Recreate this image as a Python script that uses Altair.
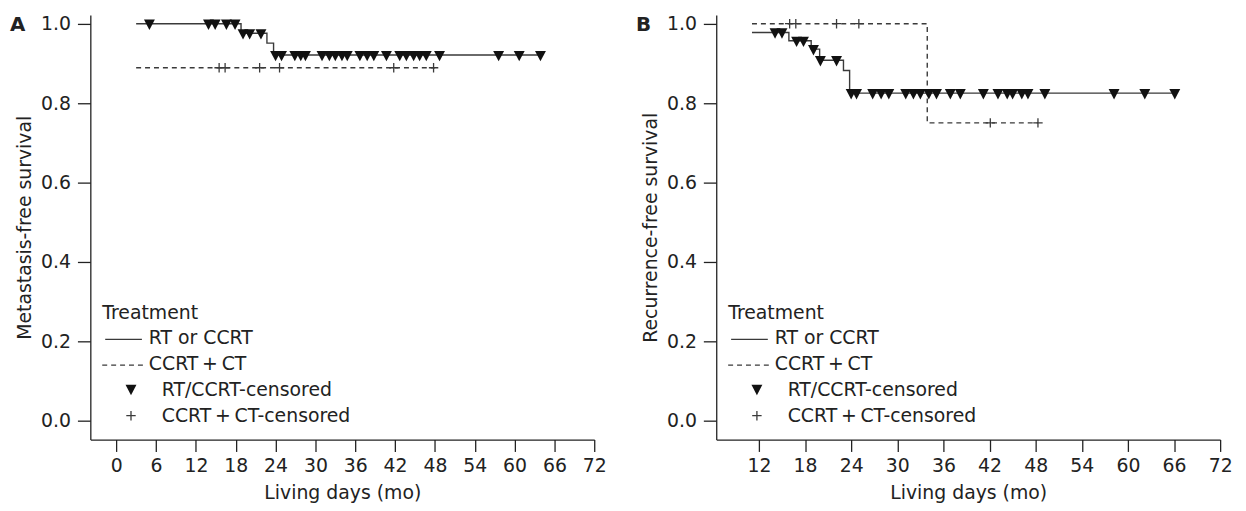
import altair as alt
import pandas as pd
import numpy as np

# ---------------- data ----------------
# Panel A: metastasis-free survival
a_rt_time = [3.0, 18.8, 22.7, 23.7, 63.9]
a_rt_surv = [1.0, 0.976, 0.951, 0.921, 0.921]
a_rt_cens = [5.0, 13.9, 14.9, 16.6, 17.9, 19.1, 20.1, 21.8, 24.0, 24.9, 26.9, 27.8,
             28.5, 31.0, 32.1, 33.0, 34.0, 34.8, 36.7, 37.8, 38.8, 40.7, 42.7, 43.7,
             44.8, 45.7, 46.7, 48.7, 57.6, 60.7, 63.9]
a_ct_time = [3.0, 48.0]
a_ct_surv = [0.889, 0.889]
a_ct_cens = [15.5, 16.4, 21.6, 24.6, 41.8, 47.8]

# Panel B: recurrence-free survival
b_rt_time = [11.1, 15.9, 18.8, 19.9, 23.0, 23.8, 66.1]
b_rt_surv = [0.978, 0.957, 0.936, 0.908, 0.882, 0.825, 0.825]
b_rt_cens = [14.1, 15.0, 16.9, 17.8, 19.1, 20.0, 22.1, 24.0, 24.7, 26.8, 27.9, 28.9,
             31.1, 32.1, 33.0, 34.1, 35.1, 36.9, 38.2, 41.2, 43.1, 44.3, 45.0, 46.2,
             47.0, 49.2, 58.2, 62.2, 66.1]
b_ct_time = [11.1, 33.9, 48.3]
b_ct_surv = [1.0, 0.75, 0.75]
b_ct_cens = [16.0, 16.8, 22.1, 25.0, 42.1, 48.3]

x_ticks_a = [0, 6, 12, 18, 24, 30, 36, 42, 48, 54, 60, 66, 72]
x_ticks_b = [12, 18, 24, 30, 36, 42, 48, 54, 60, 66, 72]
y_ticks = [0.0, 0.2, 0.4, 0.6, 0.8, 1.0]

legend_title = "Treatment"
legend_labels = ["RT or CCRT", "CCRT\u2009+\u2009CT", "RT/CCRT-censored", "CCRT\u2009+\u2009CT-censored"]

FONT = "DejaVu Sans"
FS = 19
INK = "#222222"
LINE = "#3a3a3a"
TRI_PATH = "M-1,-0.75L1,-0.75L0,1.15Z"
PLUS_PATH = "M-1,0H1M0,-1V1"


def level_at(times, survs, pts):
    idx = np.searchsorted(np.array(times), np.array(pts), side="right") - 1
    idx = np.clip(idx, 0, len(survs) - 1)
    return [survs[i] for i in idx]


def panel(letter, ytitle, xdomain, xticks, rt_t, rt_s, rt_c, ct_t, ct_s, ct_c):
    xs = alt.Scale(domain=xdomain, nice=False, zero=False)
    ys = alt.Scale(domain=[-0.048, 1.022], nice=False, zero=False)
    xax = alt.Axis(values=xticks, title="Living days (mo)", grid=False, tickSize=12,
                   labelPadding=5, titlePadding=8, labelFlush=False)
    yax = alt.Axis(values=y_ticks, format=".1f", title=ytitle, grid=False, tickSize=13,
                   labelPadding=7, titlePadding=6)

    df_rt = pd.DataFrame({"t": rt_t, "s": rt_s})
    df_ct = pd.DataFrame({"t": ct_t, "s": ct_s})
    df_rtc = pd.DataFrame({"t": rt_c, "s": level_at(rt_t, rt_s, rt_c)})
    df_ctc = pd.DataFrame({"t": ct_c, "s": level_at(ct_t, ct_s, ct_c)})

    rt_line = alt.Chart(df_rt).mark_line(interpolate="step-after", color=LINE, strokeWidth=1.4).encode(
        x=alt.X("t:Q", scale=xs, axis=xax), y=alt.Y("s:Q", scale=ys, axis=yax))
    ct_line = alt.Chart(df_ct).mark_line(interpolate="step-after", color=LINE, strokeWidth=1.4,
                                         strokeDash=[5, 4]).encode(
        x=alt.X("t:Q", scale=xs), y=alt.Y("s:Q", scale=ys))
    tri = alt.Chart(df_rtc).mark_point(shape=TRI_PATH, filled=True, size=121, color="#111111",
                                       opacity=1, strokeWidth=0).encode(
        x=alt.X("t:Q", scale=xs), y=alt.Y("s:Q", scale=ys))
    plus = alt.Chart(df_ctc).mark_point(shape=PLUS_PATH, filled=False, size=90, color=LINE,
                                        opacity=1, strokeWidth=1.3).encode(
        x=alt.X("t:Q", scale=xs), y=alt.Y("s:Q", scale=ys))

    one = pd.DataFrame({"k": [0]})
    deco = []
    deco.append(alt.Chart(one).mark_text(text=letter, font=FONT, fontSize=20, fontWeight="bold",
                                         align="left", baseline="middle", color=INK).encode(
        x=alt.value(-81), y=alt.value(10)))

    def txt(s, x, y):
        return alt.Chart(one).mark_text(text=s, font=FONT, fontSize=FS, align="left",
                                        baseline="middle", color=INK).encode(
            x=alt.value(x), y=alt.value(y))

    deco.append(txt(legend_title, 12, 300))
    deco.append(txt(legend_labels[0], 59, 326))
    deco.append(txt(legend_labels[1], 59, 352))
    deco.append(txt(legend_labels[2], 72, 378))
    deco.append(txt(legend_labels[3], 72, 404))
    deco.append(alt.Chart(one).mark_rule(color=LINE, strokeWidth=1.4).encode(
        x=alt.value(15), x2=alt.value(52), y=alt.value(327)))
    deco.append(alt.Chart(one).mark_rule(color=LINE, strokeWidth=1.4, strokeDash=[5, 4]).encode(
        x=alt.value(12), x2=alt.value(54), y=alt.value(353)))
    deco.append(alt.Chart(one).mark_point(shape=TRI_PATH, filled=True, size=121, color="#111111",
                                          opacity=1, strokeWidth=0).encode(
        x=alt.value(41), y=alt.value(377)))
    deco.append(alt.Chart(one).mark_point(shape=PLUS_PATH, filled=False, size=90, color=LINE,
                                          opacity=1, strokeWidth=1.3).encode(
        x=alt.value(41), y=alt.value(404)))

    return alt.layer(rt_line, ct_line, tri, plus, *deco).properties(width=508, height=428)


pa = panel("A", "Metastasis-free survival", [-3.9, 72], x_ticks_a,
           a_rt_time, a_rt_surv, a_rt_cens, a_ct_time, a_ct_surv, a_ct_cens)
pb = panel("B", "Recurrence-free survival", [6.45, 72], x_ticks_b,
           b_rt_time, b_rt_surv, b_rt_cens, b_ct_time, b_ct_surv, b_ct_cens)

chart = alt.hconcat(pa, pb, spacing=29).properties(
    padding={"left": 2, "top": 4, "right": 5, "bottom": 5},
    background="white",
).configure_view(stroke=None).configure_axis(
    domainColor=INK, domainWidth=1.3, tickColor=INK, tickWidth=1.3,
    labelColor=INK, titleColor=INK, labelFont=FONT, titleFont=FONT,
    labelFontSize=FS, titleFontSize=FS, titleFontWeight="normal"
)

chart.save("out.html", embed_options={"renderer": "svg", "actions": False})
